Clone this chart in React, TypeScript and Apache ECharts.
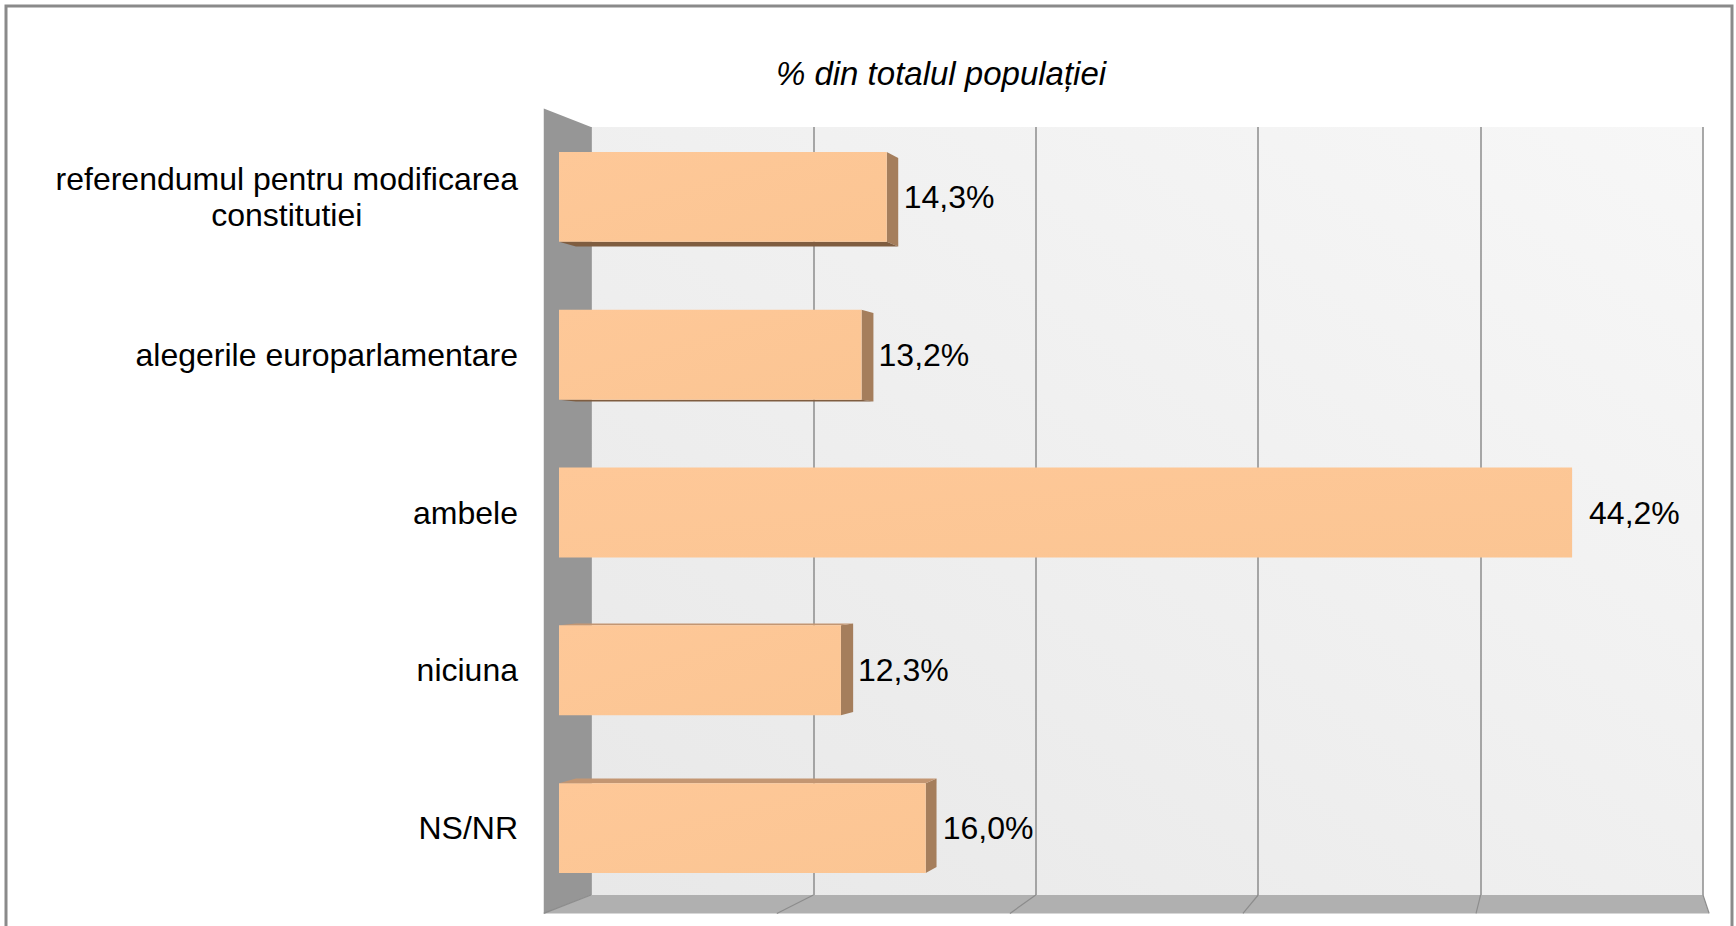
import React, { useEffect, useRef } from "react";
import * as echarts from "echarts";

const TITLE = "% din totalul populației";
const CATEGORIES = [
  "referendumul pentru modificarea\nconstitutiei",
  "alegerile europarlamentare",
  "ambele",
  "niciuna",
  "NS/NR",
];
const VALUES = [14.3, 13.2, 44.2, 12.3, 16.0];
const TICKS = [0, 10, 20, 30, 40, 50];

const FONT = "'Liberation Sans', Arial, sans-serif";
const EYE_FX = 0.885;
const EYE_FY = 0.5;
const BAR_DEPTH = 0.0167;
const WALL_DEPTH = 0.048;

export default function App() {
  const ref = useRef<HTMLDivElement>(null);
  useEffect(() => {
    if (!ref.current) return;
    const chart = echarts.init(ref.current, null, { renderer: "svg" });

    const wallsItem = (params: any, api: any) => {
      const cs = params.coordSys;
      const E = [cs.x + cs.width * 0.885, cs.y + cs.height * EYE_FY];
      const fwd = (x: number, y: number) => [x + (x - E[0]) * WALL_DEPTH, y + (y - E[1]) * WALL_DEPTH];
      const l = cs.x, r = cs.x + cs.width, t = cs.y, b = cs.y + cs.height;
      const children: any[] = [];
      children.push({
        type: "polygon",
        shape: { points: [fwd(l, t), [l, t], [l, b], fwd(l, b)] },
        style: { fill: "#969696" },
      });
      children.push({
        type: "polygon",
        shape: { points: [fwd(l, b), [l, b], [r, b], fwd(r, b)] },
        style: { fill: "#b0b0b0" },
      });
      TICKS.forEach((tv) => {
        const x = api.coord([tv, 0])[0];
        children.push({
          type: "line",
          shape: { x1: x, y1: b, x2: fwd(x, b)[0], y2: fwd(x, b)[1] },
          style: { stroke: "#8c8c8c", lineWidth: 1.2 },
        });
      });
      return { type: "group", children };
    };

    const barItem = (params: any, api: any) => {
      const v = api.value(0);
      const ci = api.value(1);
      const p0 = api.coord([0, ci]);
      const p1 = api.coord([v, ci]);
      const band = api.size([0, 1])[1];
      const h = band * 0.57;
      const cs = params.coordSys;
      const E = [cs.x + cs.width * EYE_FX, cs.y + cs.height * EYE_FY];
      const proj = (x: number, y: number) => [x + (E[0] - x) * BAR_DEPTH, y + (E[1] - y) * BAR_DEPTH];
      const x0 = p0[0], x1 = p1[0];
      const y0 = p0[1] - h / 2, y1 = p0[1] + h / 2;
      const children: any[] = [];
      if (x1 < E[0]) {
        children.push({
          type: "polygon",
          shape: { points: [[x1, y0], proj(x1, y0), proj(x1, y1), [x1, y1]] },
          style: { fill: "#a57e5c" },
        });
      }
      if (y1 < E[1]) {
        children.push({
          type: "polygon",
          shape: { points: [[x0, y1], [x1, y1], proj(x1, y1), proj(x0, y1)] },
          style: { fill: "#7f5d40" },
        });
      }
      if (y0 > E[1]) {
        children.push({
          type: "polygon",
          shape: { points: [[x0, y0], [x1, y0], proj(x1, y0), proj(x0, y0)] },
          style: { fill: "#c39672" },
        });
      }
      children.push({
        type: "rect",
        shape: { x: x0, y: y0, width: x1 - x0, height: h },
        style: {
          fill: new echarts.graphic.LinearGradient(0, 0, 1, 1, [
            { offset: 0, color: "#fec898" },
            { offset: 1, color: "#fbc593" },
          ]),
        },
      });
      children.push({
        type: "text",
        style: {
          x: x1 + 17,
          y: p0[1],
          text: v.toFixed(1).replace(".", ",") + "%",
          fill: "#000",
          fontSize: 32,
          fontFamily: FONT,
          verticalAlign: "middle",
          align: "left",
        },
      });
      return { type: "group", children };
    };

    chart.setOption({
      animation: false,
      backgroundColor: "#ffffff",
      title: {
        text: TITLE,
        left: 936,
        top: 52,
        textAlign: "center",
        textStyle: {
          fontSize: 33,
          fontStyle: "italic",
          fontWeight: "normal",
          color: "#000",
          fontFamily: FONT,
        },
      },
      graphic: [
        {
          type: "rect",
          silent: true,
          shape: { x: 6, y: 6, width: 1726, height: 1000 },
          style: { fill: "none", stroke: "#8a8a8a", lineWidth: 3 },
          z: 100,
        },
      ],
      grid: [
        {
          left: 591,
          top: 127,
          width: 1112,
          height: 768,
          show: true,
          borderWidth: 0,
          backgroundColor: new echarts.graphic.LinearGradient(0, 1, 1, 0, [
            { offset: 0, color: "#e8e8e8" },
            { offset: 1, color: "#f7f7f7" },
          ]),
        },
        {
          left: 559,
          top: 118,
          width: 1146,
          height: 789,
        },
      ],
      xAxis: [
        {
          gridIndex: 0,
          type: "value",
          min: 0,
          max: 50,
          interval: 10,
          axisLabel: { show: false },
          axisLine: { show: false },
          axisTick: { show: false },
          splitLine: { show: true, lineStyle: { color: "#8c8c8c", width: 1.5 } },
        },
        {
          gridIndex: 1,
          type: "value",
          min: 0,
          max: 50,
          interval: 10,
          show: false,
        },
      ],
      yAxis: [
        {
          gridIndex: 0,
          type: "category",
          data: CATEGORIES,
          inverse: true,
          show: false,
        },
        {
          gridIndex: 1,
          type: "category",
          data: CATEGORIES,
          inverse: true,
          axisLine: { show: false },
          axisTick: { show: false },
          splitLine: { show: false },
          axisLabel: {
            margin: 41,
            color: "#000",
            fontSize: 32,
            lineHeight: 36,
            fontFamily: FONT,
            align: "right",
            formatter: (val: string) =>
              val
                .split("\n")
                .map((s) => "{c|" + s + "}")
                .join("\n"),
            rich: {
              c: {
                align: "center",
                fontSize: 32,
                lineHeight: 36,
                fontFamily: FONT,
                color: "#000",
              },
            },
          },
        },
      ],
      series: [
        {
          type: "custom",
          name: "walls",
          xAxisIndex: 0,
          yAxisIndex: 0,
          clip: false,
          silent: true,
          z: 1,
          data: [[0, 0]],
          renderItem: wallsItem,
        },
        {
          type: "custom",
          name: "bars",
          xAxisIndex: 1,
          yAxisIndex: 1,
          clip: false,
          z: 5,
          encode: { x: 0, y: 1 },
          data: VALUES.map((v, i) => [v, i]),
          renderItem: barItem,
        },
      ],
    });
    return () => chart.dispose();
  }, []);
  return (
    <div
      ref={ref}
      style={{ position: "fixed", left: 0, top: 0, width: 1736, height: 926 }}
    />
  );
}
